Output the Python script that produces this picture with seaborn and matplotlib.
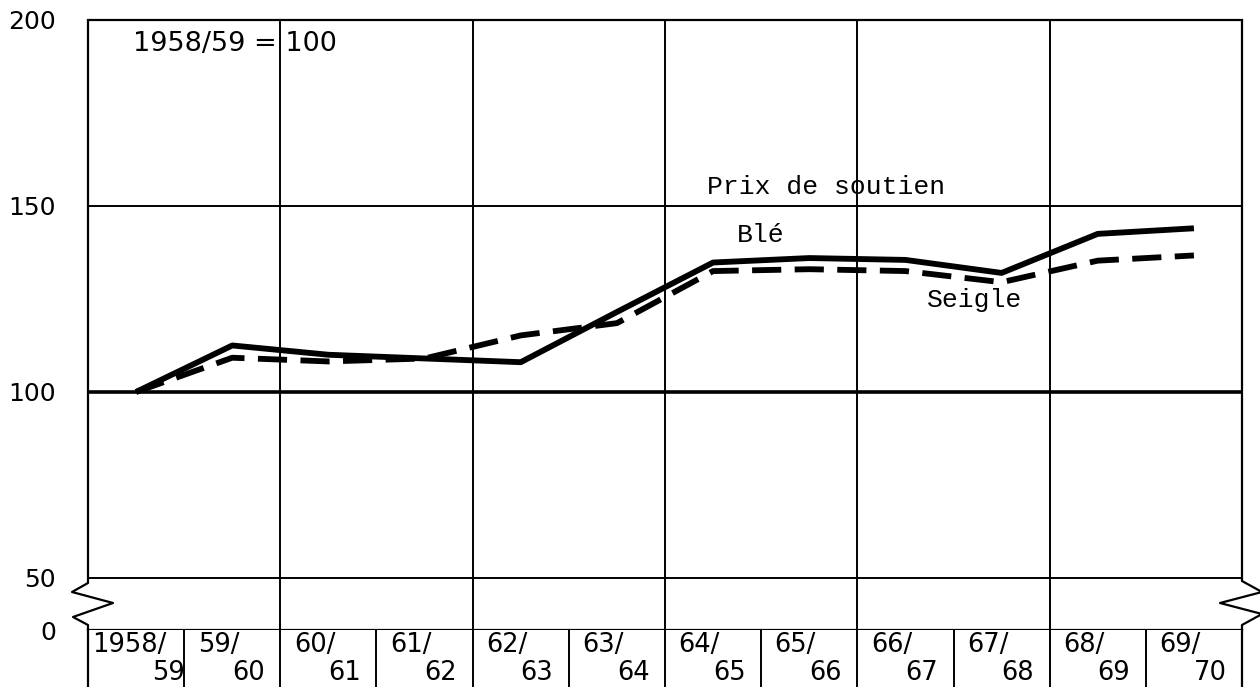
import numpy as np
import pandas as pd
import matplotlib
matplotlib.use("Agg")
import matplotlib.pyplot as plt
import matplotlib.transforms as mtransforms
import seaborn as sns

# campagnes (numerateur / denominateur de l'etiquette)
campagne_haut = ["1958/", "59/", "60/", "61/", "62/", "63/", "64/", "65/", "66/", "67/", "68/", "69/"]
campagne_bas = ["59", "60", "61", "62", "63", "64", "65", "66", "67", "68", "69", "70"]

# indices des prix de soutien, 1958/59 = 100
ble = [100, 112.5, 110, 109, 108, 121.5, 134.8, 136, 135.5, 132, 142.5, 144]
seigle = [100, 109.2, 108.2, 109, 115.2, 118.5, 132.5, 133, 132.5, 129.5, 135.3, 136.7]

y_ticks = [50, 100, 150, 200]
y_zero = 36  # position of the "0" below the axis break

sns.set_theme(style="white")
plt.rcParams["font.family"] = ["DejaVu Sans"]
plt.rcParams["text.color"] = "black"
plt.rcParams["ytick.color"] = "black"
plt.rcParams["xtick.color"] = "black"
mono = "Liberation Mono"

W, H = 1260, 687
fig = plt.figure(figsize=(W / 100, H / 100), dpi=100)
ax = fig.add_axes([88 / W, 57 / H, 1154 / W, 610 / H])
lab = fig.add_axes([88 / W, 0, 1154 / W, 57 / H], sharex=ax)

n = len(campagne_bas)
xpos = np.arange(n)
df = pd.DataFrame({
    "x": np.concatenate([xpos, xpos]),
    "indice": ble + seigle,
    "cereale": ["Blé"] * n + ["Seigle"] * n,
})

# grid
for xb in np.arange(1.5, n - 1, 2):
    ax.axvline(xb, color="black", lw=1.4, zorder=1)
for yv in [50, 150]:
    ax.axhline(yv, color="black", lw=1.4, zorder=1)
ax.axhline(100, color="black", lw=2.6, zorder=1)

sns.lineplot(data=df, x="x", y="indice", style="cereale",
             dashes={"Blé": "", "Seigle": (5.0, 2.3)},
             color="black", linewidth=4.2, legend=False, ax=ax, zorder=3)
for l in ax.lines:
    l.set_solid_capstyle("butt")
    l.set_dash_capstyle("butt")

ax.set_xlim(-0.5, n - 0.5)
ax.set_ylim(y_zero, 200)
ax.set_yticks([y_zero] + y_ticks)
ax.set_yticklabels(["0"] + [str(t) for t in y_ticks], fontsize=18)
ax.set_xticks([])
ax.tick_params(axis="y", length=0, pad=23)
ax.set_xlabel("")
ax.set_ylabel("")
for side in ["left", "right"]:
    ax.spines[side].set_visible(False)
for side in ["top", "bottom"]:
    ax.spines[side].set_linewidth(1.6)
    ax.spines[side].set_color("black")

# side borders with break marks
h = 610.0
def fy(py):
    return (630 - py) / h
left_border = [(0, 1), (0, fy(583)), (-16 / 1154, fy(592)), (25 / 1154, fy(603)),
               (-15 / 1154, fy(617)), (0, fy(625)), (0, 0)]
right_border = [(1, 1), (1, fy(581)), (1 + 20 / 1154, fy(592)), (1 - 22 / 1154, fy(603)),
                (1 + 20 / 1154, fy(614)), (1, fy(625)), (1, 0)]
for pts in [left_border, right_border]:
    px, py = zip(*pts)
    ax.plot(px, py, color="black", lw=1.6, transform=ax.transAxes, clip_on=False, zorder=4)

# annotations
ax.text(-0.03, 193.5, "1958/59 = 100", fontsize=19.5, va="center", ha="left")
ax.text(7.18, 155.2, "Prix de soutien", fontsize=19, family=mono, ha="center", va="center")
ax.text(6.5, 142.3, "Blé", fontsize=19, family=mono, ha="center", va="center")
ax.text(8.72, 124.6, "Seigle", fontsize=19, family=mono, ha="center", va="center")

# label strip
lab.set_ylim(0, 1)
lab.set_xticks([])
lab.set_yticks([])
for side in ["top", "bottom"]:
    lab.spines[side].set_visible(False)
for side in ["left", "right"]:
    lab.spines[side].set_linewidth(1.6)
    lab.spines[side].set_color("black")
for xb in np.arange(0.5, n - 1, 1):
    lab.axvline(xb, color="black", lw=1.4)
trans = mtransforms.blended_transform_factory(lab.transData, lab.transAxes)
for i, (hi, lo) in enumerate(zip(campagne_haut, campagne_bas)):
    if i == 0:
        x_hi, x_lo = i - 0.46, i + 0.17
    else:
        x_hi, x_lo = i - 0.36, i + 0.0
    lab.text(x_hi, 0.74, hi, fontsize=18.5, ha="left", va="center", transform=trans)
    lab.text(x_lo, 0.24, lo, fontsize=18.5, ha="left", va="center", transform=trans)

fig.savefig("out.png", dpi=100)
